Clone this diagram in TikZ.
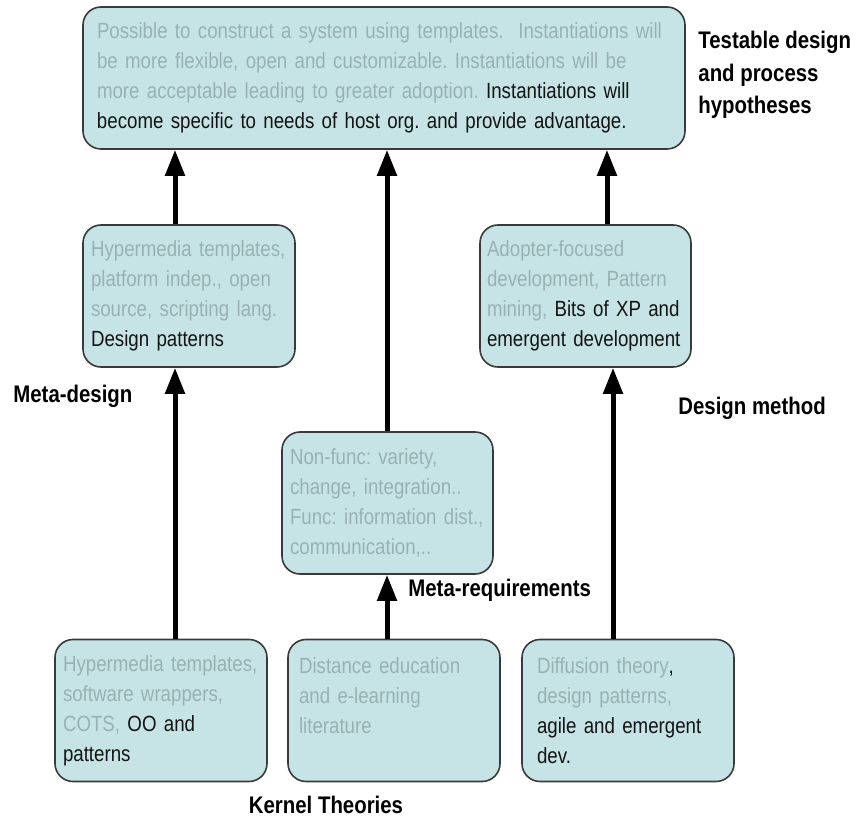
\documentclass[tikz,border=0pt]{standalone}
\usepackage{fontspec}
\setmainfont{Liberation Sans}[FakeStretch=0.85]
\frenchspacing
\usetikzlibrary{arrows.meta}
\definecolor{boxfill}{HTML}{C6E4E6}
\definecolor{boxline}{HTML}{3A3A3A}
\definecolor{paletxt}{HTML}{9AB1B3}
\definecolor{darktxt}{HTML}{141414}
\newcommand{\dk}[1]{\textcolor{darktxt}{#1}}
\tikzset{
  stage/.style={draw=boxline, fill=boxfill, line width=0.8pt, rounded corners=9pt,
    text=paletxt, align=left, minimum height=71pt,
    font=\fontsize{11pt}{15pt}\selectfont},
  tag/.style={font=\fontsize{12pt}{16.25pt}\selectfont\bfseries, inner sep=0pt, align=left},
  flow/.style={-{Triangle[length=13pt,width=9.5pt]}, line width=2.5pt}
}

\begin{document}
\begin{tikzpicture}[x=0.5pt, y=-0.5pt]
  \useasboundingbox (0,0) rectangle (857,818);

  % boxes
  \node[stage, text width=287pt, inner xsep=7pt] (hyp) at (384,78)
    {Possible to construct a system using templates.\ \ Instantiations will\\
     be more flexible, open and customizable. Instantiations will be\\
     more acceptable leading to greater adoption. \dk{Instantiations will}\\
     \dk{become specific to needs of host org. and provide advantage.}};
  \node[stage, text width=98pt, inner xsep=4pt] (mdes) at (189,296)
    {Hypermedia templates,\\platform indep., open\\source, scripting lang.\\\dk{Design patterns}};
  \node[stage, text width=98.5pt, inner xsep=3.5pt] (meth) at (585.5,296)
    {Adopter-focused\\development, Pattern\\mining, \dk{Bits of XP and}\\\dk{emergent development}};
  \node[stage, text width=97.5pt, inner xsep=4pt] (mreq) at (387.5,503)
    {Non-func: variety,\\change, integration..\\Func: information dist.,\\communication,..};
  \node[stage, text width=98pt, inner xsep=4pt] (kl) at (161,710.5)
    {Hypermedia templates,\\software wrappers,\\COTS, \dk{OO and}\\\dk{patterns}};
  \node[stage, text width=95pt, inner xsep=5.5pt] (km) at (394,710.5)
    {Distance education\\and e-learning\\literature\\~};
  \node[stage, text width=91pt, inner xsep=7.5pt] (kr) at (628,710.5)
    {Diffusion theory\dk{,}\\design patterns,\\\dk{agile and emergent}\\\dk{dev.}};

  % labels
  \node[tag, anchor=west] (lbltest) at (698,75) {Testable design\\and process\\hypotheses};
  \node[tag, anchor=west] (lbldes) at (13,396) {Meta-design};
  \node[tag, anchor=west] (lblmeth) at (678,408) {Design method};
  \node[tag, anchor=west] (lblreq) at (408,590) {Meta-requirements};
  \node[tag] (lblkern) at (326,805) {Kernel Theories};

  % arrows
  \coordinate (c1) at (175,0);
  \coordinate (c2) at (387,0);
  \coordinate (c3) at (607,0);
  \coordinate (c4) at (613,0);
  \draw[flow] (kl.north -| c1) -- (mdes.south -| c1);
  \draw[flow] (mdes.north -| c1) -- (hyp.south -| c1);
  \draw[flow] (km.north -| c2) -- (mreq.south -| c2);
  \draw[flow] (mreq.north -| c2) -- (hyp.south -| c2);
  \draw[flow] (kr.north -| c4) -- (meth.south -| c4);
  \draw[flow] (meth.north -| c3) -- (hyp.south -| c3);
\end{tikzpicture}
\end{document}
